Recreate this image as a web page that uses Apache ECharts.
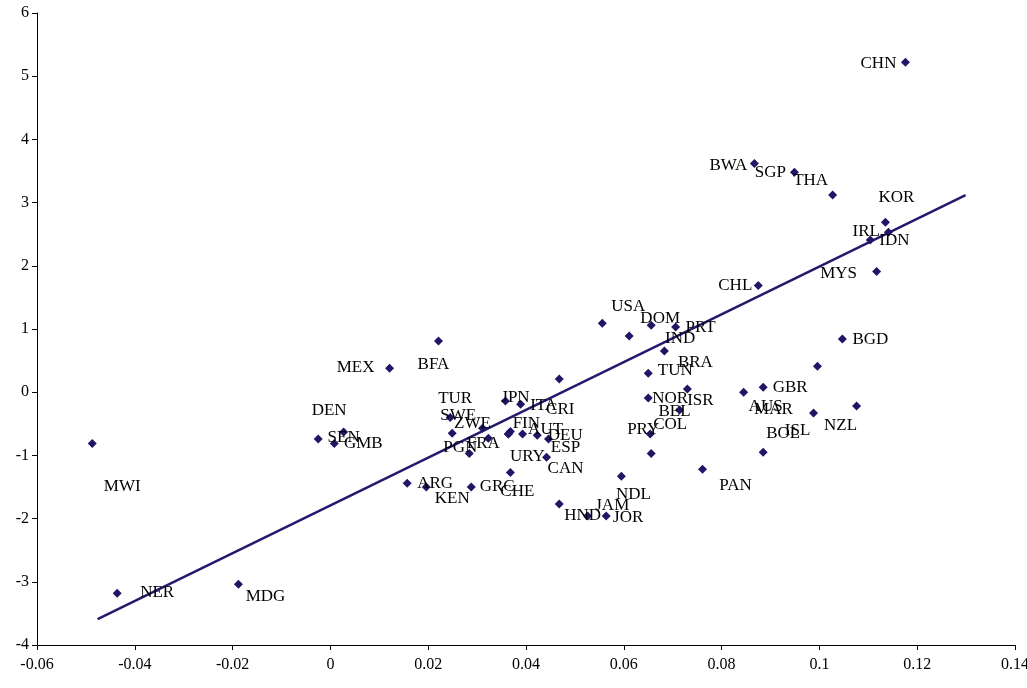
<!DOCTYPE html>
<html>
<head>
<meta charset="utf-8">
<script src="https://cdn.jsdelivr.net/npm/echarts@6/dist/echarts.min.js"></script>
<style>html,body{margin:0;padding:0;background:#fff}#main{width:1027px;height:688px}</style>
</head>
<body>
<div id="main"></div>
<script>
// country codes, x values, y values
const names = ["CHN","BWA","SGP","THA","KOR","IRL","IDN","MYS","CHL","USA","DOM","PRT","IND","BRA","TUN",
  "ISR","NOR","BEL","PRY","COL","NDL","PAN","AUS","GBR","BGD","MAR","ISL","NZL","BOL",
  "MEX","BFA","MWI","NER","MDG","DEN","SEN","GMB","TUR","SWE","ZWE","FRA","PGN","JPN","ITA","CRI",
  "FIN","","AUT","DEU","ESP","CAN","URY","CHE","ARG","KEN","GRC","JAM","HND","JOR"];
const xs = [0.1176,0.0867,0.0949,0.1027,0.1135,0.1104,0.1141,0.1117,0.0875,0.0556,0.0656,0.0706,0.0611,0.0683,0.0650,
  0.0730,0.0650,0.0714,0.0654,0.0656,0.0595,0.0761,0.0845,0.0885,0.1047,0.0996,0.0988,0.1076,0.0885,
  0.0121,0.0221,-0.0487,-0.0436,-0.0188,-0.0025,0.0027,0.0008,0.0245,0.0249,0.0311,0.0323,0.0284,0.0358,0.0389,0.0468,
  0.0368,0.0364,0.0393,0.0423,0.0446,0.0442,0.0364,0.0368,0.0157,0.0196,0.0288,0.0468,0.0526,0.0564];
const ys = [5.22,3.62,3.48,3.12,2.69,2.41,2.53,1.91,1.69,1.09,1.06,1.03,0.89,0.65,0.30,
  0.05,-0.09,-0.28,-0.66,-0.97,-1.33,-1.22,0.0,0.08,0.84,0.41,-0.33,-0.22,-0.95,
  0.38,0.81,-0.81,-3.18,-3.04,-0.74,-0.63,-0.81,-0.40,-0.65,-0.57,-0.73,-0.97,-0.14,-0.19,0.21,
  -0.62,-0.66,-0.66,-0.68,-0.74,-1.03,-0.66,-1.27,-1.44,-1.50,-1.50,-1.77,-1.96,-1.96];
// fitted trend line end points
const trendX = [-0.0476, 0.1299];
const trendY = [-3.59, 3.12];

// label placement relative to its marker (px)
const labelOffsets = {
  CHN:[-27,1],BWA:[-26,2],SGP:[-24,0],THA:[-22,-14],KOR:[11,-25],IRL:[-4,-8],IDN:[6,8],MYS:[-38,2],
  CHL:[-23,0],USA:[26,-17],DOM:[9,-7],PRT:[25,0],IND:[51,3],BRA:[31,11],TUN:[27,-3],
  ISR:[13,11],NOR:[22,1],BEL:[-5,2],PRY:[-7,-4],COL:[19,-29],NDL:[12,18],PAN:[33,16],
  AUS:[22,14],GBR:[27,0],BGD:[28,0],MAR:[-44,43],ISL:[-16,17],NZL:[-16,19],BOL:[20,-19],
  MEX:[-34,-1],BFA:[-5,24],MWI:[30,43],NER:[40,-1],MDG:[27,12],DEN:[11,-28],SEN:[0,6],GMB:[29,0],
  TUR:[5,-19],SWE:[6,-18],ZWE:[-10,-5],FRA:[-5,5],PGN:[-9,-6],JPN:[10,-4],ITA:[23,1],CRI:[1,31],
  FIN:[16,-8],AUT:[23,-4],DEU:[28,0],ESP:[17,9],CAN:[19,11],URY:[19,23],CHE:[7,19],
  ARG:[28,0],KEN:[26,12],GRC:[26,0],JAM:[53,1],HND:[-5,-1],JOR:[22,1]
};

const points = xs.map((x, i) => ({
  value: [x, ys[i]],
  name: names[i],
  label: { offset: labelOffsets[names[i]] || [0, 0] }
}));

const chart = echarts.init(document.getElementById("main"));
const font = "Liberation Serif";
const axisCommon = {
  axisLine: { onZero: false, lineStyle: { color: "#000", width: 1 } },
  axisTick: { inside: false, length: 5, lineStyle: { color: "#000" } },
  splitLine: { show: false },
  axisLabel: { color: "#000", fontFamily: font, fontSize: 16 }
};

chart.setOption({
  animation: false,
  grid: { left: 37, right: 12, top: 13, bottom: 43, outerBoundsMode: "none", containLabel: false },
  xAxis: {
    type: "value", min: -0.06, max: 0.14, interval: 0.02, ...axisCommon,
    axisLabel: { ...axisCommon.axisLabel, margin: 12, formatter: v => String(+v.toFixed(2)) }
  },
  yAxis: {
    type: "value", min: -4, max: 6, interval: 1, ...axisCommon
  },
  series: [
    {
      type: "line",
      data: trendX.map((x, i) => [x, trendY[i]]),
      showSymbol: false,
      lineStyle: { color: "#231a6e", width: 2.5 },
      z: 1
    },
    {
      type: "scatter",
      data: points,
      symbol: "diamond",
      symbolSize: 9,
      itemStyle: { color: "#1f1766", opacity: 1 },
      label: {
        show: true,
        position: "inside",
        formatter: p => p.name,
        color: "#000",
        fontFamily: font,
        fontSize: 17
      },
      z: 2
    }
  ]
});
</script>
</body>
</html>
